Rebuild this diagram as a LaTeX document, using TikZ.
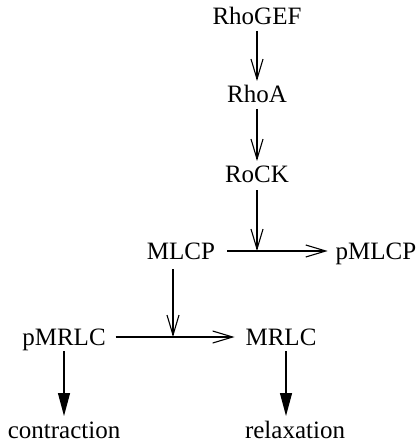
\documentclass[tikz,border=0pt]{standalone}
\usepackage{fontspec}
\setmainfont{Liberation Serif}
\usetikzlibrary{arrows.meta}
\begin{document}
\begin{tikzpicture}[x=0.5pt,y=-0.5pt,
  lbl/.style={anchor=base,inner sep=0pt,outer sep=0pt,text height=8pt,text depth=0pt,font=\fontsize{12.5}{14}\selectfont},
  openarr/.style={line width=0.55pt,-{Straight Barb[length=10pt,width=6pt]}},
  fillarr/.style={line width=0.6pt,-{Triangle[length=11.5pt,width=6pt]}},
  vshort/.style={shorten <=3pt,shorten >=3pt},
  hshort/.style={shorten <=6pt,shorten >=4pt}]
\useasboundingbox (0,0) rectangle (418,443);
\node[lbl] (RhoGEF) at (257,25) {RhoGEF};
\node[lbl] (RhoA) at (257,103) {RhoA};
\node[lbl] (RoCK) at (257,183) {RoCK};
\node[lbl] (MLCP) at (181,259) {MLCP};
\node[lbl] (pMLCP) at (376,259) {pMLCP};
\node[lbl] (pMRLC) at (64,345) {pMRLC};
\node[lbl] (MRLC) at (281,345) {MRLC};
\node[lbl] (contraction) at (64,438) {contraction};
\node[lbl] (relaxation) at (295,438) {relaxation};
\coordinate (m1) at (RoCK |- MLCP);
\coordinate (m2) at (173,337);
\coordinate (m3) at (286,345);
\draw[openarr,vshort] (RhoGEF.south) -- (RhoA.north);
\draw[openarr,vshort] (RhoA.south) -- (RoCK.north);
\draw[openarr,shorten <=3.5pt] (RoCK.south) -- (m1);
\draw[openarr,hshort] (MLCP) -- (pMLCP);
\draw[openarr,shorten <=5pt] (MLCP.south -| m2) -- (m2);
\draw[openarr,shorten <=5pt,shorten >=5.5pt] (pMRLC) -- (MRLC);
\draw[fillarr,vshort] (pMRLC.south) -- (contraction.north);
\draw[fillarr,vshort] (m3) -- (m3 |- contraction.north);
\end{tikzpicture}
\end{document}
